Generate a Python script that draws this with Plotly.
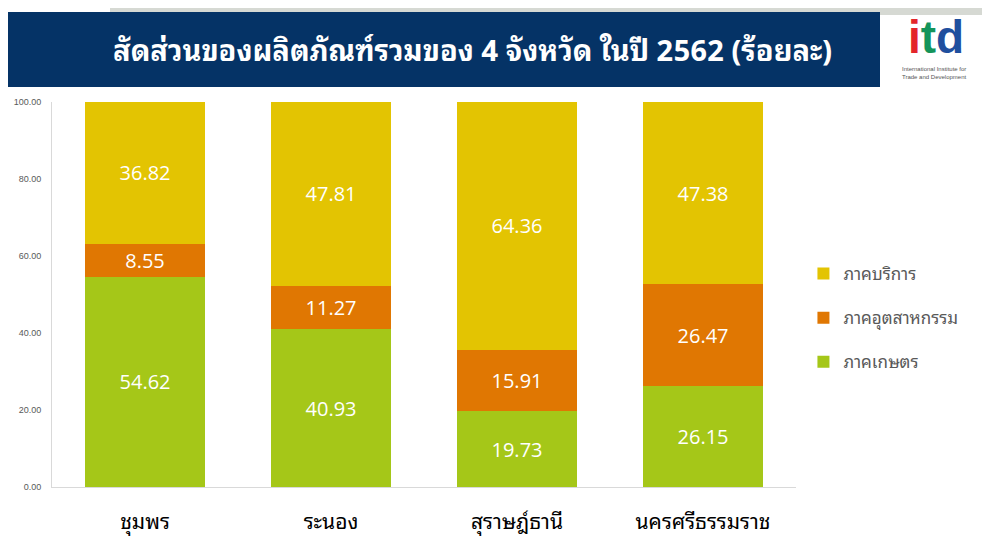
import plotly.graph_objects as go

# ── Data ───────────────────────────────────────────────────────────────────────

PROVINCES   = ["ชุมพร", "ระนอง", "สุราษฎ์ธานี", "นครศรีธรรมราช"]
AGRICULTURE = [54.62, 40.93, 19.73, 26.15]
INDUSTRY    = [8.55, 11.27, 15.91, 26.47]
SERVICES    = [36.82, 47.81, 64.36, 47.38]
Y_TICKS     = [0, 20, 40, 60, 80, 100]

# (legend name, values, colour, legend rank)
SERIES = [
    ("ภาคเกษตร",      AGRICULTURE, "#a5c718", 3),
    ("ภาคอุตสาหกรรม", INDUSTRY,    "#e07702", 2),
    ("ภาคบริการ",     SERVICES,    "#e3c402", 1),
]

THAI = "'Noto Sans Thai Looped', Loma, Garuda, Tahoma, 'Noto Sans Thai', sans-serif"
NUM = "'Open Sans', 'Noto Sans', sans-serif"

# the page body has an 8px margin, so the figure is drawn 8px in from the corner
OFF = 8
W, H = 990 - OFF, 542 - OFF
# plot area in window pixels: x 52..796, y 102..487
L, R, T, B = 52 - OFF, 990 - 796, 102 - OFF, 542 - 487
PW, PH = W - L - R, H - T - B

def px_x(x):
    return (x - OFF - L) / PW

def px_y(y):
    return (H - B - (y - OFF)) / PH

fig = go.Figure()
for i, (name, vals, color, rank) in enumerate(SERIES):
    fig.add_trace(go.Bar(
        x=PROVINCES, y=vals, name=name,
        marker=dict(color=color, line_width=0),
        text=[f"{v:.2f}" for v in vals],
        textposition="inside", insidetextanchor="middle",
        textfont=dict(color="white", size=20, family=NUM),
        legendgroup=f"g{i}", legendrank=rank,
    ))

# header band + banner
fig.add_shape(type="rect", xref="paper", yref="paper",
              x0=px_x(110), x1=px_x(985), y0=px_y(15), y1=px_y(0),
              fillcolor="#d6d9d3", line_width=0, layer="below")
fig.add_shape(type="rect", xref="paper", yref="paper",
              x0=px_x(5), x1=px_x(880), y0=px_y(87), y1=px_y(12),
              fillcolor="#053366", line_width=0)
fig.add_annotation(
    xref="paper", yref="paper", x=px_x(472), y=px_y(48),
    xanchor="center", yanchor="middle",
    text="<b>สัดส่วนของผลิตภัณฑ์รวมของ 4 จังหวัด ในปี 2562 (ร้อยละ)</b>",
    showarrow=False, font=dict(color="white", size=29, family=THAI),
)

# logo
fig.add_annotation(
    xref="paper", yref="paper", x=px_x(936), y=px_y(37),
    xanchor="center", yanchor="middle",
    text="<b><span style='color:#e3262b'>i</span><span style='color:#14945a'>t</span>"
         "<span style='color:#1f4f9e'>d</span></b>",
    showarrow=False, font=dict(size=46, family="Arial, sans-serif"),
)
fig.add_annotation(
    xref="paper", yref="paper", x=px_x(934), y=px_y(73),
    xanchor="center", yanchor="middle",
    text="International Institute for<br>Trade and Development",
    showarrow=False, align="left", font=dict(size=6, color="#555555", family="Arial, sans-serif"),
)

fig.update_layout(
    barmode="stack",
    bargap=0.355,
    width=W, height=H,
    margin=dict(l=L, r=R, t=T, b=B, autoexpand=False),
    paper_bgcolor="white",
    plot_bgcolor="white",
    font=dict(family=THAI),
    showlegend=True,
    legend=dict(
        x=1.01, y=0.6, xanchor="left", yanchor="top",
        traceorder="grouped", tracegroupgap=19,
        font=dict(size=17, color="#595959", family=THAI),
        bgcolor="rgba(0,0,0,0)",
    ),
    xaxis=dict(
        showline=True, linecolor="#d9d9d9", linewidth=1,
        tickfont=dict(size=21, color="black", family=THAI),
        ticklabelstandoff=16, automargin=False,
    ),
    yaxis=dict(
        range=[0, 100], tickvals=Y_TICKS,
        tickformat=".2f",
        showgrid=False, zeroline=False,
        showline=True, linecolor="#d9d9d9", linewidth=1,
        tickfont=dict(size=9, color="#595959", family="Arial, sans-serif"),
        ticklabelstandoff=8, automargin=False,
    ),
)

fig.write_html("out.html")
